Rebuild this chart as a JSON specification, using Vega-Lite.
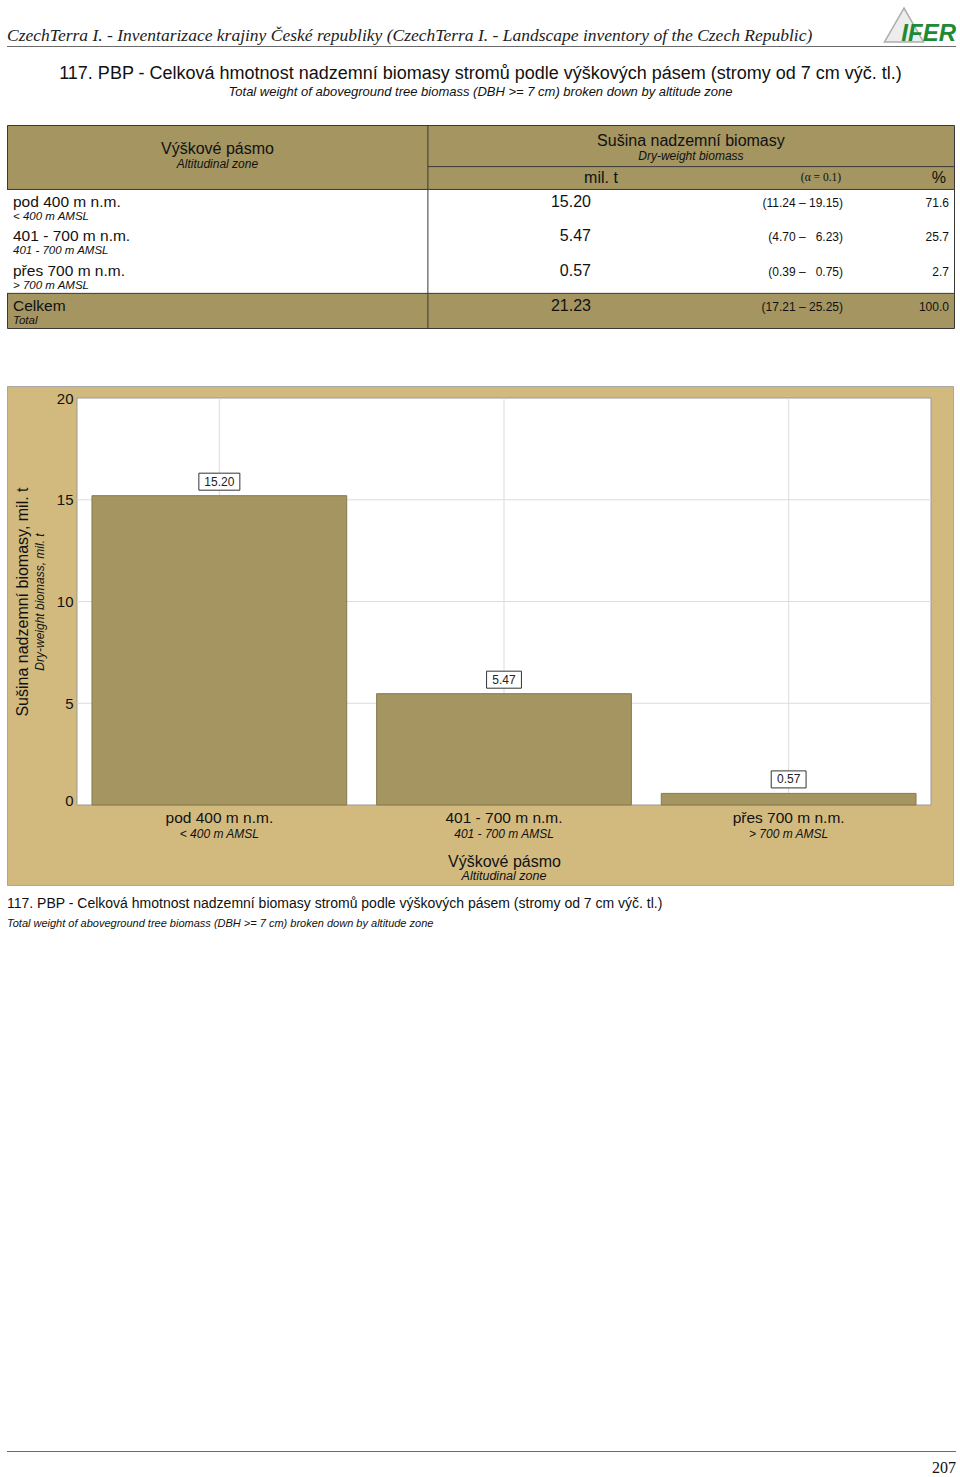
{
  "$schema": "https://vega.github.io/schema/vega-lite/v6.json",
  "background": "white",
  "padding": {"left": 6, "right": 5, "top": 5, "bottom": 0},
  "config": {
    "font": "Liberation Sans",
    "title": {"fontWeight": "normal", "color": "#111", "subtitleColor": "#111"},
    "axis": {"labelColor": "#111", "titleColor": "#111", "titleFontWeight": "normal"},
    "text": {"color": "#111"}
  },
  "datasets": {
    "rows": [
      {"row": "r1", "zone": "pod 400 m n.m.", "zone_en": "< 400 m AMSL", "value": 15.20, "ci": "(11.24 – 19.15)", "pct": 71.6},
      {"row": "r2", "zone": "401 - 700 m n.m.", "zone_en": "401 - 700 m AMSL", "value": 5.47, "ci": "(4.70 – \u20076.23)", "pct": 25.7},
      {"row": "r3", "zone": "přes 700 m n.m.", "zone_en": "> 700 m AMSL", "value": 0.57, "ci": "(0.39 – \u20070.75)", "pct": 2.7},
      {"row": "tot", "zone": "Celkem", "zone_en": "Total", "value": 21.23, "ci": "(17.21 – 25.25)", "pct": 100.0}
    ]
  },
  "spacing": 56,
  "vconcat": [
    {
      "spacing": 17,
      "vconcat": [
        {
          "width": 949,
          "height": 1,
          "view": {"fill": "#6b6b6b", "stroke": null},
          "title": {"text": "CzechTerra I. - Inventarizace krajiny České republiky (CzechTerra I. - Landscape inventory of the Czech Republic)", "anchor": "start", "font": "Liberation Serif", "fontStyle": "italic", "fontSize": 17.5, "offset": -39, "color": "#222"},
          "data": {"values": [{}]},
          "layer": [
            {"mark": {"type": "point", "shape": "triangle-up", "size": 1520, "filled": true, "fill": "#e6e6e6", "stroke": "#8a8a8a", "strokeWidth": 1.5, "xOffset": -52, "yOffset": -21.5}, "encoding": {"x": {"value": "width"}}},
            {"mark": {"type": "text", "text": "IFER", "fontWeight": "bold", "fontStyle": "italic", "fontSize": 24, "color": "#1f8a35", "align": "right", "baseline": "bottom", "dy": -1}, "encoding": {"x": {"value": "width"}}}
          ]
        },
        {
          "width": 947,
          "height": 203,
          "view": {"fill": "#A49561", "stroke": "#3a3a3a", "strokeWidth": 1},
          "title": {"text": "117. PBP - Celková hmotnost nadzemní biomasy stromů podle výškových pásem (stromy od 7 cm výč. tl.)", "subtitle": "Total weight of aboveground tree biomass (DBH >= 7 cm) broken down by altitude zone", "anchor": "middle", "fontSize": 18, "subtitleFontSize": 13, "subtitleFontStyle": "italic", "subtitlePadding": 3, "offset": 26},
          "data": {"name": "rows"},
          "layer": [
            {
              "data": {"values": [{}]},
              "mark": {"type": "rect", "fill": "white"},
              "encoding": {
                "x": {"datum": "z1", "type": "nominal", "bandPosition": 0, "axis": null, "scale": {"type": "band", "domain": ["z1", "z2", "z3", "z4", "v", "c1", "c2", "p1", "p2"], "range": [0, 947], "paddingInner": 0, "paddingOuter": 0}},
                "x2": {"datum": "p2", "bandPosition": 1},
                "y": {"datum": "r1", "type": "nominal", "bandPosition": 0, "axis": null, "scale": {"type": "band", "domain": ["h1", "h2", "r1", "r2", "r3", "tot"], "range": [-4.8, 203], "paddingInner": 0, "paddingOuter": 0}},
                "y2": {"datum": "r3", "bandPosition": 1}
              }
            },
            {"data": {"values": [{}]}, "mark": {"type": "rule", "color": "#3a3a3a"}, "encoding": {"x": {"datum": "v", "type": "nominal", "bandPosition": 0, "axis": null}}},
            {"data": {"values": [{}]}, "mark": {"type": "rule", "color": "#3a3a3a"}, "encoding": {"y": {"datum": "r1", "type": "nominal", "bandPosition": 0, "axis": null}}},
            {"data": {"values": [{}]}, "mark": {"type": "rule", "color": "#3a3a3a"}, "encoding": {"y": {"datum": "tot", "type": "nominal", "bandPosition": 0, "axis": null}}},
            {"data": {"values": [{}]}, "mark": {"type": "rule", "color": "#3a3a3a"}, "encoding": {"y": {"datum": "h2", "type": "nominal", "bandPosition": 0.34, "axis": null}, "x": {"datum": "v", "type": "nominal", "bandPosition": 0, "axis": null}, "x2": {"datum": "p2", "bandPosition": 1}}},
            {
              "mark": {"type": "text", "align": "left", "baseline": "middle", "fontSize": 15.5, "dx": 6, "dy": -5},
              "encoding": {"x": {"datum": "z1", "type": "nominal", "bandPosition": 0, "axis": null}, "y": {"field": "row", "type": "nominal", "axis": null}, "text": {"field": "zone"}}
            },
            {
              "mark": {"type": "text", "align": "left", "baseline": "middle", "fontSize": 11.5, "fontStyle": "italic", "dx": 6, "dy": 10},
              "encoding": {"x": {"datum": "z1", "type": "nominal", "bandPosition": 0, "axis": null}, "y": {"field": "row", "type": "nominal", "axis": null}, "text": {"field": "zone_en"}}
            },
            {
              "mark": {"type": "text", "align": "right", "baseline": "middle", "fontSize": 16, "dy": -5},
              "encoding": {"x": {"datum": "c1", "type": "nominal", "bandPosition": 0.55, "axis": null}, "y": {"field": "row", "type": "nominal", "axis": null}, "text": {"field": "value", "type": "quantitative", "format": ".2f"}}
            },
            {
              "mark": {"type": "text", "align": "right", "baseline": "middle", "fontSize": 12, "dy": -4},
              "encoding": {"x": {"datum": "p1", "type": "nominal", "bandPosition": 0.945, "axis": null}, "y": {"field": "row", "type": "nominal", "axis": null}, "text": {"field": "ci"}}
            },
            {
              "mark": {"type": "text", "align": "right", "baseline": "middle", "fontSize": 12, "dy": -4},
              "encoding": {"x": {"datum": "p2", "type": "nominal", "bandPosition": 0.952, "axis": null}, "y": {"field": "row", "type": "nominal", "axis": null}, "text": {"field": "pct", "type": "quantitative", "format": ".1f"}}
            },
            {"data": {"values": [{}]}, "mark": {"type": "text", "text": "Výškové pásmo", "align": "center", "baseline": "middle", "fontSize": 16}, "encoding": {"x": {"datum": "z3", "type": "nominal", "bandPosition": 0, "axis": null}, "y": {"datum": "h1", "type": "nominal", "bandPosition": 0.83, "axis": null}}},
            {"data": {"values": [{}]}, "mark": {"type": "text", "text": "Altitudinal zone", "align": "center", "baseline": "middle", "fontSize": 12, "fontStyle": "italic"}, "encoding": {"x": {"datum": "z3", "type": "nominal", "bandPosition": 0, "axis": null}, "y": {"datum": "h2", "type": "nominal", "bandPosition": 0.27, "axis": null}}},
            {"data": {"values": [{}]}, "mark": {"type": "text", "text": "Sušina nadzemní biomasy", "align": "center", "baseline": "middle", "fontSize": 16}, "encoding": {"x": {"datum": "c2", "type": "nominal", "bandPosition": 0.5, "axis": null}, "y": {"datum": "h1", "type": "nominal", "bandPosition": 0.6, "axis": null}}},
            {"data": {"values": [{}]}, "mark": {"type": "text", "text": "Dry-weight biomass", "align": "center", "baseline": "middle", "fontSize": 12, "fontStyle": "italic"}, "encoding": {"x": {"datum": "c2", "type": "nominal", "bandPosition": 0.5, "axis": null}, "y": {"datum": "h2", "type": "nominal", "bandPosition": 0.03, "axis": null}}},
            {"data": {"values": [{}]}, "mark": {"type": "text", "text": "mil. t", "align": "center", "baseline": "middle", "fontSize": 16}, "encoding": {"x": {"datum": "c1", "type": "nominal", "bandPosition": 0.645, "axis": null}, "y": {"datum": "h2", "type": "nominal", "bandPosition": 0.67, "axis": null}}},
            {"data": {"values": [{}]}, "mark": {"type": "text", "text": "(α = 0.1)", "align": "center", "baseline": "middle", "fontSize": 11.5, "font": "Liberation Serif"}, "encoding": {"x": {"datum": "p1", "type": "nominal", "bandPosition": 0.736, "axis": null}, "y": {"datum": "h2", "type": "nominal", "bandPosition": 0.67, "axis": null}}},
            {"data": {"values": [{}]}, "mark": {"type": "text", "text": "%", "align": "right", "baseline": "middle", "fontSize": 16}, "encoding": {"x": {"datum": "p2", "type": "nominal", "bandPosition": 0.924, "axis": null}, "y": {"datum": "h2", "type": "nominal", "bandPosition": 0.67, "axis": null}}}
          ]
        }
      ]
    },
    {
      "spacing": 515,
      "vconcat": [
        {
          "width": 946,
          "height": 499,
          "view": {"fill": "#D2BA7F", "stroke": "#a8a8a8", "strokeWidth": 1},
          "title": {"text": "117. PBP - Celková hmotnost nadzemní biomasy stromů podle výškových pásem (stromy od 7 cm výč. tl.)", "subtitle": "Total weight of aboveground tree biomass (DBH >= 7 cm) broken down by altitude zone", "orient": "bottom", "anchor": "start", "fontSize": 14, "subtitleFontSize": 11, "subtitleFontStyle": "italic", "subtitlePadding": 7, "offset": 12},
          "resolve": {"scale": {"x": "independent", "y": "independent"}},
          "layer": [
            {
              "data": {"values": [{}]},
              "layer": [
                {
                  "mark": {"type": "rect", "fill": "white", "stroke": "#9a9a9a", "strokeWidth": 1},
                  "encoding": {
                    "x": {"datum": 0, "type": "quantitative", "scale": {"domain": [0, 1], "range": [70, 924]}, "axis": null},
                    "x2": {"datum": 1},
                    "y": {"datum": 0, "type": "quantitative", "scale": {"domain": [0, 20], "range": [419, 12], "nice": false}, "axis": {"orient": "left", "offset": -70, "labels": false, "ticks": false, "domain": false, "grid": false, "title": "Dry-weight biomass, mil. t", "titleFontSize": 12, "titleFontStyle": "italic", "titlePadding": 31}},
                    "y2": {"datum": 20}
                  }
                },
                {"mark": {"type": "rule", "color": "#dcdcdc"}, "encoding": {"x": {"datum": 0, "type": "quantitative"}, "x2": {"datum": 1}, "y": {"datum": 5, "type": "quantitative"}}},
                {"mark": {"type": "rule", "color": "#dcdcdc"}, "encoding": {"x": {"datum": 0, "type": "quantitative"}, "x2": {"datum": 1}, "y": {"datum": 10, "type": "quantitative"}}},
                {"mark": {"type": "rule", "color": "#dcdcdc"}, "encoding": {"x": {"datum": 0, "type": "quantitative"}, "x2": {"datum": 1}, "y": {"datum": 15, "type": "quantitative"}}}
              ]
            },
            {
              "data": {"name": "rows"},
              "transform": [{"filter": "datum.row !== 'tot'"}],
              "layer": [
                {
                  "mark": {"type": "rule", "color": "#dcdcdc"},
                  "encoding": {
                    "x": {"field": "zone", "type": "nominal", "sort": null, "scale": {"domain": ["pod 400 m n.m.", "401 - 700 m n.m.", "přes 700 m n.m."], "range": [70, 924], "paddingInner": 0.105, "paddingOuter": 0.0526}, "axis": {"orient": "bottom", "offset": -80, "ticks": false, "domain": false, "grid": false, "labelAngle": 0, "labelFontSize": 15.5, "labelPadding": 5, "labelLimit": 300, "title": "Výškové pásmo", "titleFontSize": 16, "titlePadding": 28}},
                    "y": {"datum": 0, "type": "quantitative", "scale": {"domain": [0, 20], "range": [419, 12], "nice": false}, "axis": {"orient": "left", "offset": -70, "ticks": false, "domain": false, "grid": false, "values": [0, 5, 10, 15, 20], "labelFontSize": 15, "labelPadding": 4, "labelBaseline": {"condition": {"test": "datum.value === 0", "value": "alphabetic"}, "value": "middle"}, "title": "Sušina nadzemní biomasy, mil. t", "titleFontSize": 16, "titlePadding": 26}},
                    "y2": {"datum": 20}
                  }
                },
                {
                  "mark": {"type": "bar", "fill": "#A49561", "stroke": "#857a52", "strokeWidth": 1},
                  "encoding": {"x": {"field": "zone", "type": "nominal", "sort": null}, "y": {"field": "value", "type": "quantitative"}}
                },
                {
                  "mark": {"type": "point", "filled": true, "fill": "white", "stroke": "#333", "strokeWidth": 1, "opacity": 1, "size": 1681, "yOffset": -14},
                  "encoding": {
                    "x": {"field": "zone", "type": "nominal", "sort": null},
                    "y": {"field": "value", "type": "quantitative"},
                    "shape": {"condition": {"test": "datum.value >= 10", "value": "M-1,-0.415L1,-0.415L1,0.415L-1,0.415Z"}, "value": "M-0.85,-0.415L0.85,-0.415L0.85,0.415L-0.85,0.415Z"}
                  }
                },
                {
                  "mark": {"type": "text", "baseline": "middle", "align": "center", "fontSize": 12, "dy": -14, "color": "#222"},
                  "encoding": {"x": {"field": "zone", "type": "nominal", "sort": null}, "y": {"field": "value", "type": "quantitative"}, "text": {"field": "value", "type": "quantitative", "format": ".2f"}}
                },
                {
                  "mark": {"type": "text", "baseline": "middle", "align": "center", "fontSize": 12, "fontStyle": "italic", "dy": 29},
                  "encoding": {"x": {"field": "zone", "type": "nominal", "sort": null}, "y": {"datum": 0, "type": "quantitative"}, "text": {"field": "zone_en"}}
                },
                {
                  "data": {"values": [{}]},
                  "mark": {"type": "text", "text": "Altitudinal zone", "baseline": "middle", "align": "center", "fontSize": 12.5, "fontStyle": "italic", "dy": 71},
                  "encoding": {"x": {"datum": "401 - 700 m n.m.", "type": "nominal"}, "y": {"datum": 0, "type": "quantitative"}}
                }
              ]
            }
          ]
        },
        {
          "width": 949,
          "height": 1,
          "view": {"fill": "#6b6b6b", "stroke": null},
          "data": {"values": [{}]},
          "mark": {"type": "text", "text": ""},
          "title": {"text": "207", "orient": "bottom", "anchor": "end", "font": "Liberation Serif", "fontSize": 16, "offset": 3}
        }
      ]
    }
  ]
}
